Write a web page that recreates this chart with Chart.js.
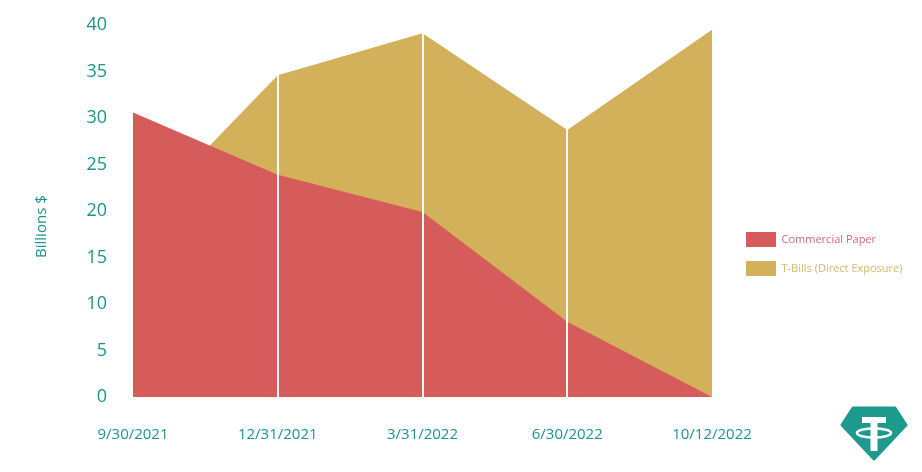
<!DOCTYPE html>
<html>
<head>
<meta charset="utf-8">
<title>Commercial Paper vs T-Bills</title>
<script src="https://cdn.jsdelivr.net/npm/chart.js@4.4.0/dist/chart.umd.min.js"></script>
<style>
  html, body { margin: 0; padding: 0; background: #fff; }
  #wrap { position: relative; width: 922px; height: 472px; }
  #logo { position: absolute; left: 840px; top: 406px; width: 68px; height: 55px; }
</style>
</head>
<body>
<div id="wrap">
  <canvas id="chart" width="922" height="472"></canvas>
  <!-- tether logo -->
  <svg id="logo" viewBox="0 0 68 55">
    <polygon points="13,2 55,2 66,19 34,53 2,19" fill="#1d9a8d" stroke="#1d9a8d" stroke-width="3" stroke-linejoin="round"/>
    <rect x="22" y="11" width="24" height="6" fill="#fff"/>
    <rect x="30.5" y="11" width="7" height="34" fill="#fff"/>
    <ellipse cx="34" cy="27" rx="17" ry="4.5" fill="none" stroke="#fff" stroke-width="2.6"/>
  </svg>
</div>
<script>
const dates = ["9/30/2021", "12/31/2021", "3/31/2022", "6/30/2022", "10/12/2022"];
const commercialPaper = [30.6, 23.9, 19.9, 8.1, 0];
const tBills = [18.5, 34.6, 39.1, 28.7, 39.5];
const yTicks = [0, 5, 10, 15, 20, 25, 30, 35, 40];
const seriesNames = ["Commercial Paper", "T-Bills (Direct Exposure)"];

const TEAL = "#1a968b";
const RED = "#d65c5c";
const GOLD = "#d3b15a";
const legendText = ["#d96a6a", "#d8b96c"];

const PAD_RIGHT = 9.5;
const AREA_RIGHT = 712;

Chart.defaults.font.family = "'Open Sans', sans-serif";

const ctx = document.getElementById("chart").getContext("2d");
new Chart(ctx, {
  type: "line",
  data: {
    labels: dates,
    datasets: [
      {
        label: seriesNames[0],
        data: commercialPaper,
        backgroundColor: RED,
        borderWidth: 0,
        fill: "origin",
        pointRadius: 0,
        tension: 0,
      },
      {
        label: seriesNames[1],
        data: tBills,
        backgroundColor: GOLD,
        borderWidth: 0,
        fill: "origin",
        pointRadius: 0,
        tension: 0,
      },
    ],
  },
  options: {
    responsive: false,
    animation: false,
    events: [],
    devicePixelRatio: 1,
    layout: { padding: { top: 25, right: PAD_RIGHT, bottom: 0, left: 0 } },
    scales: {
      x: {
        type: "category",
        offset: false,
        border: { display: false },
        grid: {
          z: 1,
          lineWidth: 2,
          drawTicks: false,
          color: (c) => (c.index === 0 || c.index === dates.length - 1 ? "rgba(0,0,0,0)" : "rgba(255,255,255,0.95)"),
        },
        ticks: {
          color: TEAL,
          font: { size: 15 },
          padding: 29,
          maxRotation: 0,
          autoSkip: false,
        },
        afterFit: (s) => { s.height = 75; },
      },
      y: {
        min: 0,
        max: 40,
        border: { display: false },
        grid: { display: false, drawTicks: false },
        afterBuildTicks: (s) => { s.ticks = yTicks.map((v) => ({ value: v })); },
        ticks: { color: TEAL, font: { size: 18 }, padding: 26 },
        title: {
          display: true,
          text: "Billions $        ",
          color: TEAL,
          font: { size: 15 },
          padding: { top: 33, bottom: 0 },
        },
        afterFit: (s) => {
          s.width = 133;
          // tick padding should not push the plot down
          s.paddingTop = 0;
          s.paddingBottom = 0;
        },
      },
      // empty axis: keeps a gap between plot and legend
      gap: {
        position: "right",
        display: true,
        border: { display: false },
        grid: { display: false },
        ticks: { display: false },
        afterFit: (s) => {
          s.width = Math.max(0, s.chart.width - PAD_RIGHT - s.chart.legend.width - AREA_RIGHT);
        },
      },
    },
    plugins: {
      tooltip: { enabled: false },
      legend: {
        position: "right",
        align: "center",
        maxWidth: 230,
        title: { display: true, text: " ", font: { size: 1 }, padding: { top: 10, bottom: 0 } },
        labels: {
          boxWidth: 30,
          boxHeight: 15,
          padding: 14,
          font: { size: 11 },
          generateLabels: (chart) => {
            const items = Chart.defaults.plugins.legend.labels.generateLabels(chart);
            items.forEach((it, i) => {
              it.fontColor = legendText[i];
              it.lineWidth = 0;
              it.strokeStyle = "rgba(0,0,0,0)";
            });
            return items;
          },
        },
      },
    },
  },
});
</script>
</body>
</html>
